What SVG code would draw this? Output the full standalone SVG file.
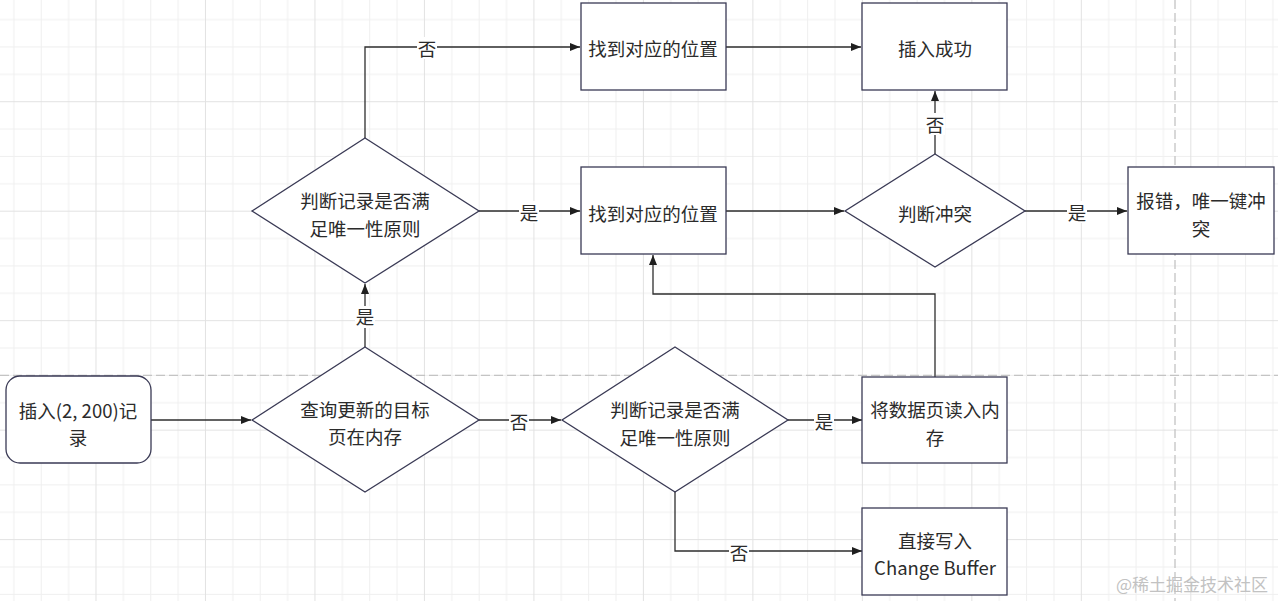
<svg xmlns="http://www.w3.org/2000/svg" width="1278" height="601" viewBox="0 0 1278 601">
<defs>
<pattern id="grid" patternUnits="userSpaceOnUse" x="95.5" y="101.2" width="109.48" height="109.48">
<path d="M27.87 0V109.48M55.24 0V109.48M82.61 0V109.48M0 27.87H109.48M0 55.24H109.48M0 82.61H109.48" stroke="#efefef" stroke-width="1" fill="none"/>
<path d="M0.5 0V109.48M0 0.5H109.48" stroke="#e2e2e2" stroke-width="1" fill="none"/>
</pattern>
<marker id="arr" viewBox="0 0 10 10" refX="10" refY="5" markerWidth="10" markerHeight="10" markerUnits="userSpaceOnUse" orient="auto">
<path d="M0 1 L10 5 L0 9 Z" fill="#1f1f1f"/>
</marker>
<style>
.node{fill:#fff;stroke:#3a3a55;stroke-width:1.3}
.t{font-family:"Noto Sans CJK SC","Liberation Sans",sans-serif;font-size:18.5px;fill:#2b2b2b;text-anchor:middle;dominant-baseline:central}
.edge{fill:none;stroke:#2e2e2e;stroke-width:1.3;marker-end:url(#arr)}
.lbg{fill:#fff}
.pb{stroke:#c4c4c4;stroke-width:1.3;stroke-dasharray:9 4;fill:none}
</style>
</defs>
<rect width="1278" height="601" fill="#fff"/>
<rect width="1278" height="601" fill="url(#grid)"/>
<path class="pb" d="M0 375.4H1278M1175 0V601"/>

<g id="connectors">
<path class="edge" d="M151 420H251"/>
<path class="edge" d="M365 347V284"/>
<path class="edge" d="M365 138V47H580"/>
<path class="edge" d="M479 211H580"/>
<path class="edge" d="M726 47H861"/>
<path class="edge" d="M726 211H844"/>
<path class="edge" d="M935 154V91"/>
<path class="edge" d="M1025 211H1127"/>
<path class="edge" d="M479 420H561"/>
<path class="edge" d="M788 420H862"/>
<path class="edge" d="M675 492V551H862"/>
<path class="edge" d="M935 377V294H653V255"/>
<rect class="lbg" x="417" y="37" width="20" height="22"/><text class="t" x="427" y="48">否</text>
<rect class="lbg" x="355" y="306" width="20" height="22"/><text class="t" x="365" y="316">是</text>
<rect class="lbg" x="519" y="201" width="20" height="22"/><text class="t" x="529" y="212">是</text>
<rect class="lbg" x="925" y="113" width="20" height="22"/><text class="t" x="935" y="124">否</text>
<rect class="lbg" x="1067" y="201" width="20" height="22"/><text class="t" x="1077" y="212">是</text>
<rect class="lbg" x="509" y="410" width="20" height="22"/><text class="t" x="519" y="421">否</text>
<rect class="lbg" x="814" y="410" width="20" height="22"/><text class="t" x="824" y="421">是</text>
<rect class="lbg" x="729" y="541" width="20" height="22"/><text class="t" x="739" y="552">否</text>
</g>

<g id="start">
<rect class="node" x="6" y="376" width="145" height="87" rx="14"/>
<text class="t" x="78" y="410">插入(2, 200)记</text>
<text class="t" x="78" y="437">录</text>
</g>
<g id="check-memory">
<polygon class="node" points="365,347 479,420 365,492 252,420"/>
<text class="t" x="365" y="409">查询更新的目标</text>
<text class="t" x="365" y="436">页在内存</text>
</g>
<g id="check-unique-bottom">
<polygon class="node" points="675,347 788,420 675,492 562,420"/>
<text class="t" x="675" y="409">判断记录是否满</text>
<text class="t" x="675" y="437">足唯一性原则</text>
</g>
<g id="check-unique-top">
<polygon class="node" points="365,138 479,211 365,283 252,211"/>
<text class="t" x="365" y="200">判断记录是否满</text>
<text class="t" x="365" y="228">足唯一性原则</text>
</g>
<g id="find-pos-top">
<rect class="node" x="581" y="3" width="145" height="87"/>
<text class="t" x="653" y="48">找到对应的位置</text>
</g>
<g id="insert-ok">
<rect class="node" x="862" y="3" width="145" height="87"/>
<text class="t" x="935" y="48">插入成功</text>
</g>
<g id="find-pos-mid">
<rect class="node" x="581" y="167" width="145" height="87"/>
<text class="t" x="653" y="213">找到对应的位置</text>
</g>
<g id="check-conflict">
<polygon class="node" points="935,154 1025,211 935,267 845,211"/>
<text class="t" x="935" y="213">判断冲突</text>
</g>
<g id="error">
<rect class="node" x="1128" y="167" width="146" height="87"/>
<text class="t" x="1201" y="200">报错，唯一键冲</text>
<text class="t" x="1201" y="228">突</text>
</g>
<g id="read-page">
<rect class="node" x="862" y="377" width="145" height="86"/>
<text class="t" x="935" y="409">将数据页读入内</text>
<text class="t" x="935" y="437">存</text>
</g>
<g id="change-buffer">
<rect class="node" x="862" y="508" width="145" height="87"/>
<text class="t" x="935" y="540">直接写入</text>
<text class="t" x="935" y="567">Change Buffer</text>
</g>
<text x="1192" y="583" font-family="Noto Sans CJK SC, sans-serif" font-size="17" fill="#c2c2c2" text-anchor="middle" dominant-baseline="central">@稀土掘金技术社区</text>
</svg>
